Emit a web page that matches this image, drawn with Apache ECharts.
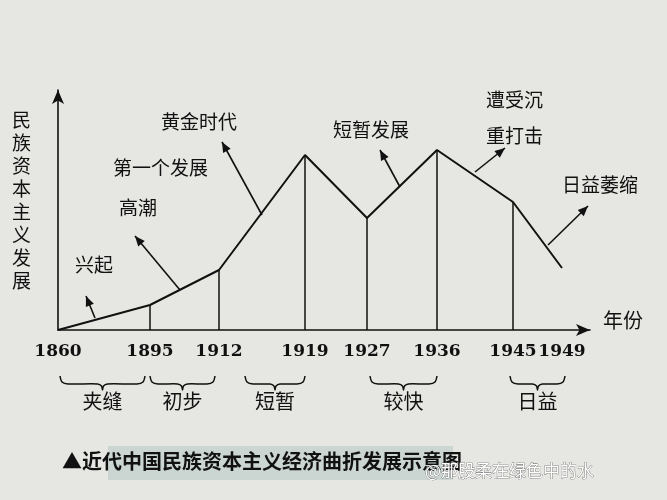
<!DOCTYPE html><html><head><meta charset="utf-8">
<script src="https://cdn.jsdelivr.net/npm/echarts@6/dist/echarts.min.js"></script>
<style>body{margin:0;background:#e6e6e3}#c{width:667px;height:500px}</style></head><body><div id="c"></div>
<script>
const years=['1860','1895','1912','1919','1927','1936','1945','1949'];
const slots=[0,92,161,247,309,379,455,504];
const values=[0,25,60,175,112,180,128,62];
const dropYears=['1895','1912','1919','1927','1936','1945'];
const stages=['夹缝','初步','短暂','较快','日益'];
const c=echarts.init(document.getElementById('c'));
const pts=slots.map((s,i)=>[s,values[i]]);
const drops=pts.filter((p,i)=>dropYears.includes(years[i]));
const F='"Noto Sans CJK SC",sans-serif';
function arrow(x1,y1,x2,y2){return {type:'line',shape:{x1,y1,x2,y2},style:{stroke:'#111',lineWidth:1.6},z:10};}
function head(x1,y1,x2,y2){const a=Math.atan2(y2-y1,x2-x1),L=11,w=0.4;return {type:'polygon',shape:{points:[[x2,y2],[x2-L*Math.cos(a-w),y2-L*Math.sin(a-w)],[x2-L*Math.cos(a+w),y2-L*Math.sin(a+w)]]},style:{fill:'#111'},z:10};}
function arr(x1,y1,x2,y2){return [arrow(x1,y1,x2,y2),head(x1,y1,x2,y2)];}
function txt(t,x,y,s){return {type:'text',x,y,style:{text:t,font:(s||19)+'px '+F,fill:'#111'},z:10};}
function brace(a,b,y){const m=(a+b)/2;return {type:'polyline',shape:{points:[[a,y],[a+2,y+6],[a+8,y+8],[m-5,y+8],[m-1,y+10],[m,y+14],[m+1,y+10],[m+5,y+8],[b-8,y+8],[b-2,y+6],[b,y]],smooth:0.3},style:{stroke:'#111',fill:null,lineWidth:1.5},z:10};}
const spans=[[60,145],[150,215],[245,305],[370,437],[510,565]];
const g=[
 {type:'text',x:12,y:108,style:{text:'民\n族\n资\n本\n主\n义\n发\n展',font:'19px '+F,fill:'#111',lineHeight:23}},
 txt('年份',603,310,20),
 txt('兴起',75,255),...arr(95,318,86,296),
 txt('第一个发展',113,158),txt('高潮',119,198),...arr(180,290,135,236),
 txt('黄金时代',161,112),...arr(262,215,222,142),
 txt('短暂发展',333,120),...arr(400,187,380,150),
 txt('遭受沉',486,90),txt('重打击',486,126),...arr(475,172,505,148),
 txt('日益萎缩',562,175),...arr(548,245,588,206),
 ...spans.map(s=>brace(s[0],s[1],376)),
 ...stages.map((t,i)=>txt(t,(spans[i][0]+spans[i][1])/2-20,391,20)),
 {type:'rect',shape:{x:108,y:446,width:345,height:34},style:{fill:'#b9c9c4',opacity:0.6}},
 {type:'text',x:62,y:451,style:{text:'▲近代中国民族资本主义经济曲折发展示意图',font:'bold 20px '+F,fill:'#111'},z:5},
 {type:'text',x:425,y:462,style:{text:'@那股柔在绿色中的水',font:'17px '+F,fill:'#fff',stroke:'#555',lineWidth:0.6},z:6}
];
c.setOption({backgroundColor:'#e6e6e3',animation:false,
 grid:{left:58,right:77,top:90,bottom:170},
 xAxis:{type:'value',min:0,max:532,splitLine:{show:false},
  axisLine:{symbol:['none','arrow'],symbolSize:[9,14],lineStyle:{color:'#111',width:1.6}},
  axisTick:{show:false},
  axisLabel:{customValues:slots,formatter:v=>years[slots.indexOf(v)]||'',color:'#111',fontSize:17,fontWeight:'bold',fontFamily:'"DejaVu Serif",serif',margin:13}},
 yAxis:{type:'value',min:0,max:240,splitLine:{show:false},axisLabel:{show:false},axisTick:{show:false},
  axisLine:{show:true,symbol:['none','arrow'],symbolSize:[9,14],lineStyle:{color:'#111',width:1.6}}},
 series:[
  {type:'line',data:pts,symbol:'none',lineStyle:{color:'#111',width:2}},
  {type:'bar',data:drops,barWidth:1.5,itemStyle:{color:'#111'}}
 ],
 graphic:g});
</script></body></html>
